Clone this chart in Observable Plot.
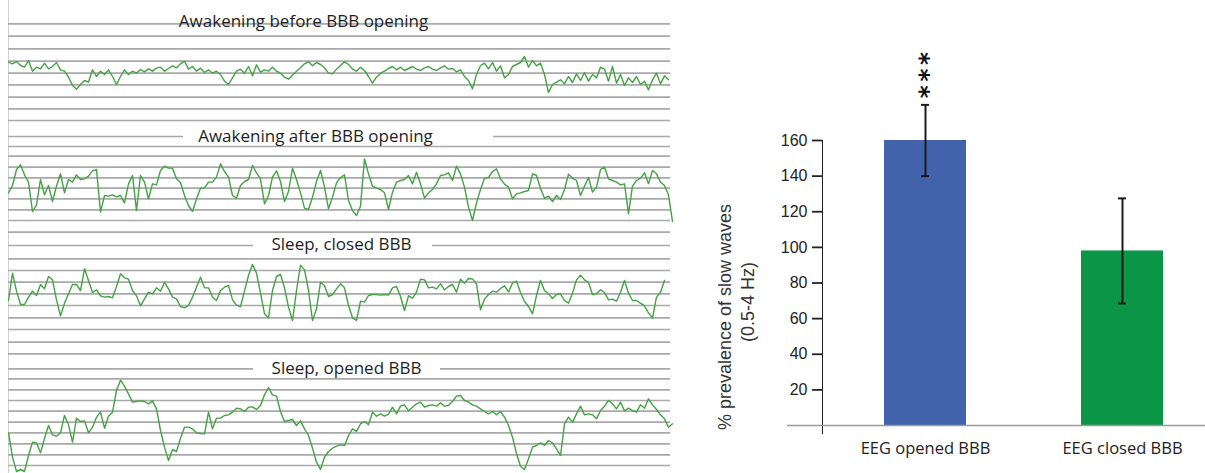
<!DOCTYPE html>
<html><head><meta charset="utf-8">
<script src="https://cdn.jsdelivr.net/npm/d3@7"></script>
<script src="https://cdn.jsdelivr.net/npm/@observablehq/plot@0.6"></script>
<style>
html,body{margin:0;padding:0;background:#fff;}
#root{position:relative;width:1205px;height:473px;overflow:hidden;background:#fff;}
.panel{position:absolute;left:0;}
#bars{position:absolute;left:700px;top:0;}
#bars g[aria-label^="y-axis"] line, #bars g[aria-label^="y-axis"] path{stroke-width:1.8px;}
</style></head>
<body><div id="root"></div>
<script>
// ---------- EEG traces (deflection in µV, negative-up convention) ----------
const awakeBefore = [
185,190,183,195,200,180,212,200,205,188,
205,198,186,208,212,230,255,266,252,240,
245,208,228,212,222,208,228,252,228,208,
222,212,218,207,214,205,212,203,200,212,
204,196,202,190,182,206,198,212,203,216,
208,218,212,222,242,252,232,212,206,218,
198,226,193,215,208,212,200,212,218,230,
236,224,212,202,190,184,196,186,192,202,
218,220,206,
195,184,192,206,212,200,210,228,248,230,
218,212,204,198,208,200,210,204,198,206,
210,202,198,206,210,202,196,206,204,214,
208,228,240,265,222,195,188,205,186,212,
196,232,222,198,192,186,168,200,180,196,
188,222,276,252,245,238,250,228,246,220,
240,216,242,222,232,200,206,242,198,248,
222,255,232,246,228,252,242,268,238,218,
250,226,238];
const awakeAfter = [
232,210,162,148,178,200,288,268,192,238,
210,258,212,175,232,192,200,178,192,190,
182,166,162,290,240,242,238,244,240,262,
205,180,285,180,200,250,205,208,165,152,
158,158,190,202,240,270,288,250,218,218,
200,200,185,145,168,185,240,248,210,198,
192,150,172,190,265,240,185,166,198,258,
228,158,192,232,278,282,245,198,165,215,
280,245,202,186,
178,255,285,300,272,130,175,212,218,222,
232,282,230,200,195,192,180,205,170,205,
248,232,222,205,180,178,172,195,152,175,
215,275,315,262,222,188,186,168,160,190,
206,215,250,235,232,228,225,175,180,218,
248,242,258,240,252,222,176,188,195,240,
212,186,230,215,162,155,190,195,200,208,
205,295,212,195,188,172,205,165,175,200,
210,238,318];
const sleepClosed = [
210,128,182,222,222,200,182,195,162,175,
138,148,208,256,218,190,162,162,180,115,
150,186,178,196,200,198,202,168,130,142,
146,180,196,226,205,185,190,172,182,155,
175,200,205,228,232,225,200,170,140,172,
172,200,210,180,170,165,208,224,228,182,
135,102,128,188,250,262,180,138,132,172,
230,270,180,104,118,180,270,235,155,165,
198,192,175,160,
172,225,262,270,212,215,195,192,192,194,
192,194,172,168,198,240,196,203,185,146,
148,172,170,175,160,178,168,162,185,146,
158,144,145,160,238,206,192,182,185,174,
166,184,158,152,186,213,228,250,195,150,
180,190,204,192,190,210,218,188,148,134,
148,156,192,190,178,186,208,206,212,185,
150,188,210,210,218,226,248,262,200,185,
150];
const sleepOpened = [
262,335,378,372,378,330,290,292,322,278,
240,268,272,262,210,238,290,218,228,226,
262,245,215,200,248,212,200,135,104,122,
145,170,168,166,168,175,166,190,255,305,
345,312,318,278,245,245,250,262,264,265,
200,250,218,218,210,208,200,188,190,198,
185,184,192,180,148,126,148,152,198,228,
225,222,240,226,250,270,308,350,372,335,
318,308,302,298,
300,270,250,258,235,228,238,200,212,205,
212,206,185,205,182,178,196,185,175,170,
185,180,178,182,172,182,180,168,152,150,
165,170,178,182,190,198,205,198,208,198,
215,240,275,325,362,372,340,305,300,292,
300,285,292,310,330,235,215,230,205,182,
208,205,208,220,195,182,165,175,190,170,
196,188,195,200,178,188,160,178,192,208,
220,245,235];

const panelTitles = ["Awakening before BBB opening", "Awakening after BBB opening", "Sleep, closed BBB", "Sleep, opened BBB"];
// chart-paper grid levels (µV) for each recording
const gridAwakeBefore = [107,145,182,218,253,290,325];
const gridAwakeAfter  = [15,93,122,155,187,218,250,283,315];
const gridSleepClosed = [5,85,120,155,190,225,262,297,335];
const gridSleepOpened = [25,100,133,165,197,230,262,295,328,360];
const titleLevels = [70,63,45,70];          // grid level carrying each title
const titleGaps = [null,[43.75,121.25],[61.25,106],[61.25,108]]; // sample range interrupted by title
const titleCenters = [73.75,76.75,83.25,84.5]; // sample index at title centre

// ---------- Bar chart ----------
const categories = ["EEG opened BBB", "EEG closed BBB"];
const barValues = [160, 98];
const barErrors = [20, 29.5];
const sigLabels = ["***", ""];
const barColors = ["#4262ab", "#0b9546"];
const yTicks = [20,40,60,80,100,120,140,160];
const yLabel1 = "% prevalence of slow waves";
const yLabel2 = "(0.5-4 Hz)";

const root = document.getElementById("root");

const traces = [awakeBefore, awakeAfter, sleepClosed, sleepOpened];
const grids = [gridAwakeBefore, gridAwakeAfter, gridSleepClosed, gridSleepOpened];
const tops = [0,115,230,345];
const heights = [115,115,115,128];
const titleDy = [-2,0,-1,0];
const gridColor = "#a9a9a9";

traces.forEach((trace, k) => {
  const H = heights[k];
  const lvl = titleLevels[k];
  const gap = titleGaps[k];
  const segs = gap
    ? [{y: lvl, x1: 0, x2: gap[0]}, {y: lvl, x1: gap[1], x2: 165.5}]
    : [{y: lvl, x1: 0, x2: 165.5}];
  const chart = Plot.plot({
    width: 680, height: H, margin: 0,
    style: {background: "transparent", overflow: "visible"},
    x: {domain: [-2, 168], range: [0, 680], axis: null},
    y: {domain: [0, 3 * H], range: [0, H], axis: null},
    marks: [
      Plot.ruleX([0], {stroke: "#d0d0d0", strokeWidth: 1}),
      Plot.ruleY(grids[k], {x1: 0, x2: 165.5, stroke: gridColor, strokeWidth: 1.7}),
      Plot.ruleY(segs, {y: "y", x1: "x1", x2: "x2", stroke: gridColor, strokeWidth: 1.7}),
      Plot.lineY(trace, {stroke: "#43a343", strokeWidth: 1.4}),
      Plot.text([panelTitles[k]], {x: titleCenters[k], y: lvl, dy: titleDy[k], fontSize: 17, fontFamily: "Open Sans", fill: "#1e1e1e"})
    ]
  });
  const div = document.createElement("div");
  div.className = "panel";
  div.style.top = tops[k] + "px";
  div.appendChild(chart);
  root.appendChild(div);
});

const bars = categories.map((c, i) => ({
  name: c, value: barValues[i],
  lo: barValues[i] - barErrors[i], hi: barValues[i] + barErrors[i],
  sig: sigLabels[i], color: barColors[i]
}));

const barChart = Plot.plot({
  width: 505, height: 473,
  marginLeft: 122, marginRight: 0, marginTop: 140, marginBottom: 40,
  style: {background: "transparent", fontFamily: "Liberation Sans, Arial, sans-serif", fontSize: "16px", color: "#222", overflow: "visible"},
  x: {type: "band", domain: categories, range: [184, 463], paddingInner: 0.584, paddingOuter: 0, align: 0.5, axis: null},
  y: {domain: [0, 160], range: [425, 140], ticks: yTicks, tickSize: 10, tickPadding: 5, line: true, label: null, tickFormat: d => d},
  color: {type: "identity"},
  marks: [
    Plot.barY(bars, {x: "name", y: "value", fill: "color"}),
    Plot.ruleY([0], {stroke: "#9a9a9a", strokeWidth: 1.5, insetLeft: -35}),
    Plot.ruleX(bars, {x: "name", y1: "lo", y2: "hi", stroke: "#1a1a1a", strokeWidth: 2}),
    Plot.tickY(bars, {x: "name", y: "hi", insetLeft: 37, insetRight: 37, stroke: "#1a1a1a", strokeWidth: 2}),
    Plot.tickY(bars, {x: "name", y: "lo", insetLeft: 37, insetRight: 37, stroke: "#1a1a1a", strokeWidth: 2}),
    Plot.text(bars, {x: "name", y: "hi", text: "sig", rotate: 90, textAnchor: "middle", lineAnchor: "middle", fontSize: 25, fontWeight: "bold", dy: -28, dx: -6, fill: "#111", fontFamily: "DejaVu Sans"}),
    Plot.text(categories, {x: d => d, frameAnchor: "bottom", lineAnchor: "middle", dy: 15, fontSize: 16.5, fontFamily: "Open Sans", fill: "#222"}),
    Plot.text([yLabel1], {frameAnchor: "left", textAnchor: "middle", lineAnchor: "middle", rotate: -90, dx: -97, dy: 30, fontSize: 18, fill: "#333", fontFamily: "Liberation Sans"}),
    Plot.text([yLabel2], {frameAnchor: "left", textAnchor: "middle", lineAnchor: "middle", rotate: -90, dx: -74, dy: 15, fontSize: 18, fill: "#333", fontFamily: "Liberation Sans"})
  ]
});
// space the stacked significance stars apart
barChart.querySelectorAll("text").forEach(t => {
  if (t.textContent === sigLabels[0]) t.style.letterSpacing = "3.5px";
});
const bdiv = document.createElement("div");
bdiv.id = "bars";
bdiv.appendChild(barChart);
root.appendChild(bdiv);
</script>
</body></html>
